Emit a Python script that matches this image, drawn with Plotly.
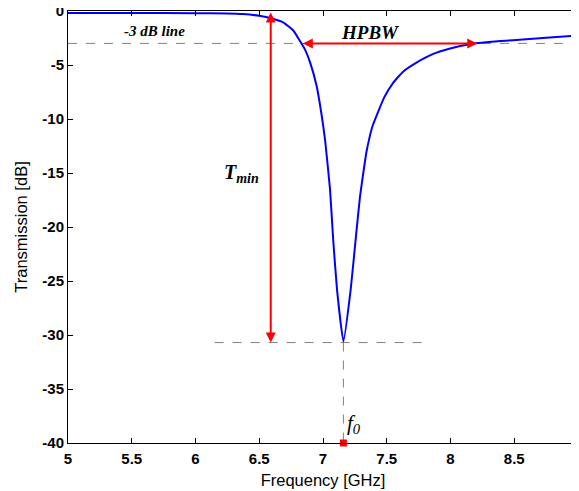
import plotly.graph_objects as go

# Data
freq_ghz = [5.0, 5.5, 6.0, 6.25, 6.37, 6.5, 6.6, 6.69, 6.77, 6.82, 6.86, 6.90,
            6.95, 6.99, 7.016, 7.055, 7.08, 7.11, 7.16, 7.217, 7.259, 7.29,
            7.316, 7.34, 7.365, 7.39, 7.43, 7.48, 7.55, 7.63, 7.73, 7.86, 7.99,
            8.14, 8.3, 8.49, 8.75, 9.0]
trans_db = [-0.18, -0.19, -0.2, -0.23, -0.28, -0.45, -0.7, -1.07, -1.85, -2.8, -3.6, -4.8,
            -6.95, -9.7, -11.9, -16.5, -21.2, -25.8, -30.6, -25.8, -20.8, -17.2,
            -15.0, -13.1, -11.7, -10.6, -9.4, -8.0, -6.65, -5.6, -4.8, -4.0, -3.5,
            -3.1, -2.88, -2.7, -2.48, -2.27]

f0 = 7.16
t_min = -30.7
half_power = -3.0
hpbw_lo = 6.83
hpbw_hi = 8.21
tmin_arrow_f = 6.59
x_ticks = [5, 5.5, 6, 6.5, 7, 7.5, 8, 8.5, 9]
y_ticks = [0, -5, -10, -15, -20, -25, -30, -35, -40]

serif = "Liberation Serif"
sans = "Liberation Sans"

fig = go.Figure()

# dashed helper lines
fig.add_trace(go.Scatter(x=[5, 9], y=[half_power, half_power], mode="lines",
                         line=dict(color="#808080", width=1, dash="dash"),
                         hoverinfo="skip", showlegend=False))
fig.add_trace(go.Scatter(x=[6.15, 7.84], y=[t_min, t_min], mode="lines",
                         line=dict(color="#808080", width=1, dash="dash"),
                         hoverinfo="skip", showlegend=False))
fig.add_trace(go.Scatter(x=[f0, f0], y=[t_min, -40], mode="lines",
                         line=dict(color="#808080", width=1, dash="dash"),
                         hoverinfo="skip", showlegend=False))

# main curve
fig.add_trace(go.Scatter(x=freq_ghz, y=trans_db, mode="lines",
                         line=dict(color="#0000ff", width=2, shape="spline", smoothing=0.4),
                         showlegend=False))

# f0 marker
fig.add_trace(go.Scatter(x=[f0], y=[-40], mode="markers",
                         marker=dict(color="#ff0000", size=7, symbol="square"),
                         cliponaxis=False, showlegend=False))

annotations = [
    # T_min double arrow
    dict(x=tmin_arrow_f, y=t_min, ax=tmin_arrow_f, ay=0, xref="x", yref="y",
         axref="x", ayref="y", text="", showarrow=True, arrowhead=2,
         arrowside="end+start", arrowcolor="#ff0000", arrowwidth=2, arrowsize=1),
    # HPBW double arrow
    dict(x=hpbw_hi, y=half_power, ax=hpbw_lo, ay=half_power, xref="x", yref="y",
         axref="x", ayref="y", text="", showarrow=True, arrowhead=2,
         arrowside="end+start", arrowcolor="#ff0000", arrowwidth=2, arrowsize=1),
    dict(x=5.68, y=-1.85, text="<b><i>-3 dB line</i></b>", showarrow=False,
         font=dict(family=serif, size=15, color="black")),
    dict(x=7.37, y=-1.95, text="<b><i>HPBW</i></b>", showarrow=False,
         font=dict(family=serif, size=19, color="black")),
    dict(x=6.36, y=-15.0, text="<b><i>T<sub>min</sub></i></b>", showarrow=False,
         font=dict(family=serif, size=20, color="black")),
    dict(x=7.245, y=-38.2, text="<i>f<sub>0</sub></i>", showarrow=False,
         font=dict(family=serif, size=21, color="black")),
]

axis_common = dict(showline=True, linecolor="black", linewidth=1,
                   ticks="inside", ticklen=5, tickcolor="black", showgrid=False,
                   zeroline=False, automargin=False, ticklabeloverflow="allow",
                   tickfont=dict(family=sans, size=15, color="black", weight="bold"))

# the page body adds an 8px offset, so the figure is sized to fit the window
fig.update_layout(
    width=571, height=483,
    margin=dict(l=60, r=1, t=3, b=48),
    paper_bgcolor="white", plot_bgcolor="white",
    annotations=annotations,
    xaxis=dict(range=[5, 9], tickvals=x_ticks, ticktext=[f"{v:g}" for v in x_ticks],
               mirror="ticks", ticklabelstandoff=2,
               title=dict(text="Frequency [GHz]", font=dict(family=sans, size=16.5, color="black"),
                          standoff=8),
               **axis_common),
    yaxis=dict(range=[-40, 0], tickvals=y_ticks, ticktext=[f"{v:g}" for v in y_ticks],
               mirror=False, ticklabelstandoff=0,
               title=dict(text="Transmission [dB]", font=dict(family=sans, size=16.5, color="black"),
                          standoff=10),
               **axis_common),
)

fig.write_html("out.html")
